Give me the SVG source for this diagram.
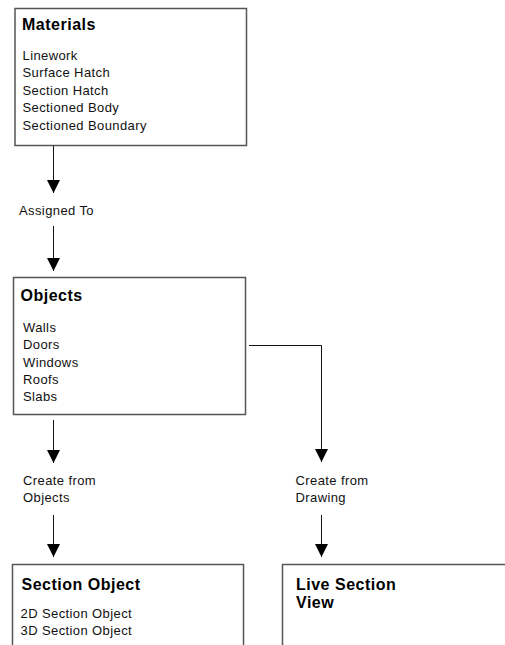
<svg xmlns="http://www.w3.org/2000/svg" width="505" height="645" viewBox="0 0 505 645">
<style>
.box{fill:#fff;stroke:#555;stroke-width:1.5}
.title{font-family:"Liberation Sans",Arial,sans-serif;font-weight:bold;font-size:16px;letter-spacing:0.5px;fill:#000}
.item{font-family:"Liberation Sans",Arial,sans-serif;font-size:13px;letter-spacing:0.4px;fill:#111}
.conn{fill:none;stroke:#111;stroke-width:1}
</style>
<defs>
<marker id="ah" markerUnits="userSpaceOnUse" markerWidth="14" markerHeight="14" refX="13" refY="7" orient="auto">
<path d="M0,0.5 L13,7 L0,13.5 Z" fill="#000"/>
</marker>
</defs>
<g id="connectors">
<line class="conn" x1="53.5" y1="146" x2="53.5" y2="193" marker-end="url(#ah)"/>
<text class="item" x="19" y="215">Assigned To</text>
<line class="conn" x1="53.5" y1="226" x2="53.5" y2="271" marker-end="url(#ah)"/>
<line class="conn" x1="53.5" y1="420" x2="53.5" y2="463" marker-end="url(#ah)"/>
<text class="item" x="23" y="485">Create from</text>
<text class="item" x="23" y="502">Objects</text>
<line class="conn" x1="53.5" y1="515" x2="53.5" y2="557" marker-end="url(#ah)"/>
<polyline class="conn" points="249,345.5 321.5,345.5 321.5,462" marker-end="url(#ah)"/>
<text class="item" x="295.5" y="485">Create from</text>
<text class="item" x="295.5" y="502">Drawing</text>
<line class="conn" x1="321.5" y1="515" x2="321.5" y2="557" marker-end="url(#ah)"/>
</g>
<g id="materials">
<rect class="box" x="15" y="8.5" width="231.5" height="137"/>
<text class="title" x="22" y="30">Materials</text>
<text class="item" x="22.5" y="59.5">Linework</text>
<text class="item" x="22.5" y="77">Surface Hatch</text>
<text class="item" x="22.5" y="94.5">Section Hatch</text>
<text class="item" x="22.5" y="112">Sectioned Body</text>
<text class="item" x="22.5" y="129.5">Sectioned Boundary</text>
</g>
<g id="objects">
<rect class="box" x="13.5" y="277.5" width="232" height="137"/>
<text class="title" x="20.5" y="301">Objects</text>
<text class="item" x="23" y="332">Walls</text>
<text class="item" x="23" y="349">Doors</text>
<text class="item" x="23" y="366.5">Windows</text>
<text class="item" x="23" y="384">Roofs</text>
<text class="item" x="23" y="401">Slabs</text>
</g>
<g id="section-object">
<rect class="box" x="12.5" y="564.5" width="231" height="100"/>
<text class="title" x="21.5" y="590">Section Object</text>
<text class="item" x="20.5" y="618">2D Section Object</text>
<text class="item" x="20.5" y="635">3D Section Object</text>
</g>
<g id="live-section-view">
<rect class="box" x="282.5" y="564.5" width="240" height="100"/>
<text class="title" x="296" y="590">Live Section</text>
<text class="title" x="296" y="608">View</text>
</g>
</svg>
